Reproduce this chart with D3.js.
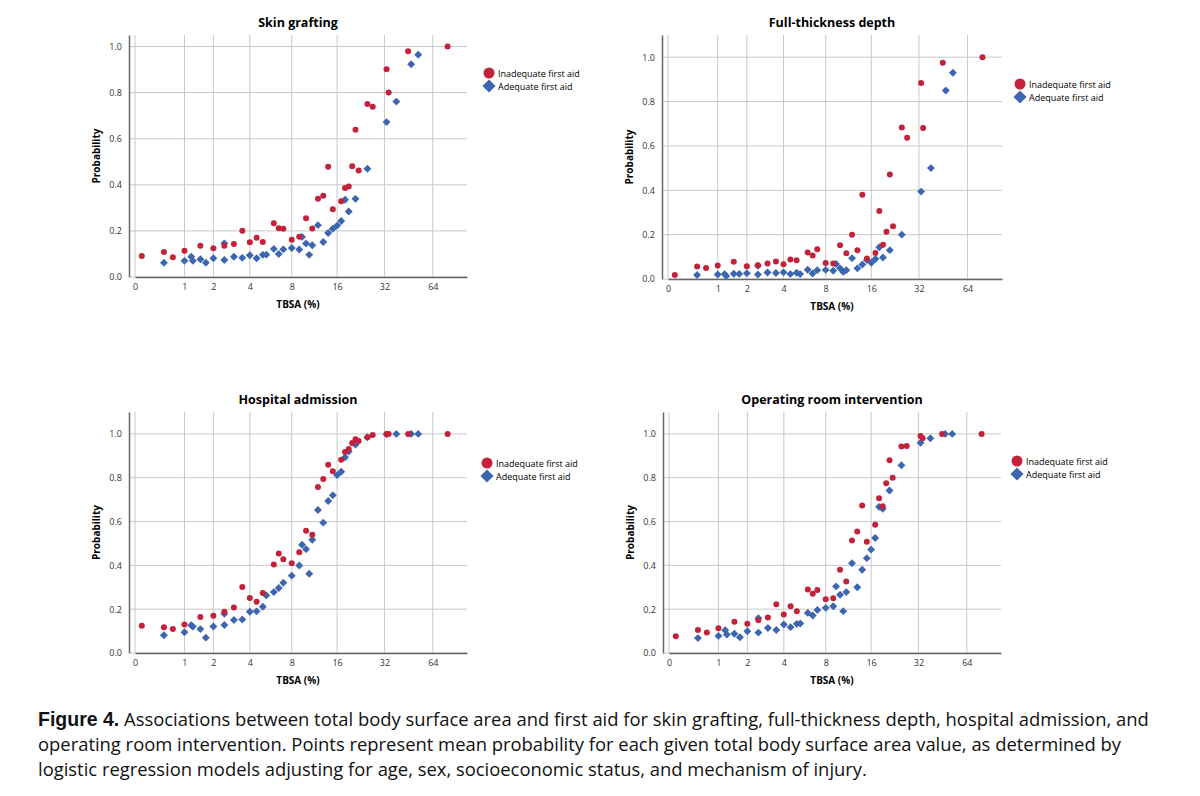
<!DOCTYPE html>
<html>
<head>
<meta charset="utf-8">
<script src="https://cdn.jsdelivr.net/npm/d3@7"></script>
<style>
  body { margin: 0; background: #fff; }
  text { font-family: "Open Sans", "Liberation Sans", sans-serif; }
</style>
</head>
<body>
<svg id="chart" width="1200" height="796"></svg>
<script>
// TBSA values shared by all panels
const xRed = [0.1,0.5,0.7,1,1.5,2,2.5,3,3.5,4,4.5,5,6,6.5,7,8,9,10,11,12,13,14,15,17,18,19,20,21,22,25,27,33,34,45,79]
const xBlue = [0.5,1,1.2,1.25,1.5,1.7,2,2.5,2.5,3,3.5,4,4.5,5,5.3,6,6.5,7,8,9,9.4,10,10.5,11,12,13,14,15,16,17,18,19,21,25,33,38,47,52]

const skinRed = [.091,.109,.086,.114,.136,.125,.136,.143,.201,.151,.170,.152,.233,.212,.209,.162,.175,.255,.210,.339,.352,.478,.294,.329,.386,.393,.480,.639,.462,.751,.739,.901,.801,.98,1.0]
const skinBlue = [.062,.07,.088,.07,.077,.062,.081,.074,.146,.088,.083,.094,.081,.096,.097,.122,.1,.12,.126,.119,.174,.145,.096,.138,.225,.152,.191,.209,.223,.243,.335,.284,.339,.47,.672,.761,.923,.964]

const fullRed = [.018,.056,.05,.061,.078,.058,.062,.07,.079,.067,.088,.085,.12,.106,.134,.072,.07,.152,.116,.2,.13,.38,.092,.117,.306,.154,.213,.471,.238,.683,.637,.884,.681,.975,1.0]
const fullBlue = [.018,.02,.022,.013,.024,.023,.026,.02,.06,.029,.027,.03,.022,.028,.022,.042,.025,.04,.041,.037,.068,.048,.032,.04,.094,.048,.065,.086,.073,.09,.143,.097,.13,.2,.394,.5,.85,.93]

const hospRed = [.124,.118,.109,.130,.164,.170,.188,.208,.301,.251,.234,.274,.404,.454,.428,.410,.460,.558,.540,.758,.794,.859,.829,.882,.917,.931,.959,.976,.968,.985,.995,1,1,1,1]
const hospBlue = [.081,.095,.127,.121,.109,.07,.121,.179,.128,.151,.153,.188,.19,.211,.263,.278,.297,.321,.353,.399,.494,.474,.362,.517,.653,.595,.694,.72,.812,.827,.893,.92,.951,.985,.998,1,1,1]

const orRed = [.077,.105,.093,.113,.143,.133,.149,.162,.223,.176,.213,.19,.29,.27,.287,.245,.25,.38,.326,.514,.555,.673,.508,.585,.706,.67,.775,.88,.8,.943,.945,.99,.98,1,1]
const orBlue = [.068,.078,.104,.084,.088,.072,.099,.093,.159,.114,.105,.13,.118,.133,.135,.183,.171,.196,.206,.213,.304,.266,.191,.278,.41,.3,.38,.433,.472,.525,.667,.658,.742,.857,.96,.98,1,1]

const xTicks = [0,1,2,4,8,16,32,64]
const yTicks = [0,0.2,0.4,0.6,0.8,1.0]

const RED = "#c4213b"
const BLUE = "#3c67b0"

const panels = [
  { title: "Skin grafting", red: skinRed, blue: skinBlue, x: 129, y: 35, w: 338, h: 242, yMax: 1.05, legX: 489, legY: 73 },
  { title: "Full-thickness depth", red: fullRed, blue: fullBlue, x: 662, y: 35, w: 340, h: 244, yMax: 1.1, legX: 1020, legY: 84 },
  { title: "Hospital admission", red: hospRed, blue: hospBlue, x: 129, y: 412, w: 338, h: 241, yMax: 1.1, legX: 487, legY: 463 },
  { title: "Operating room intervention", red: orRed, blue: orBlue, x: 663, y: 412, w: 338, h: 241, yMax: 1.1, legX: 1017, legY: 461 }
]

const svg = d3.select("#chart")

panels.forEach(p => {
  const g = svg.append("g").attr("transform", `translate(${p.x}, ${p.y})`)

  // eixo x tipo log(1+x)
  const x = d3.scaleSymlog().constant(1).domain([0, 104]).range([6, p.w])
  const y = d3.scaleLinear().domain([0, p.yMax]).range([p.h, 0])

  // grade
  g.selectAll(".vgrid").data(xTicks).enter().append("line")
    .attr("x1", d => x(d)).attr("x2", d => x(d))
    .attr("y1", 0).attr("y2", p.h)
    .attr("stroke", "#c8c8c8").attr("stroke-width", 1)
  g.selectAll(".hgrid").data(yTicks).enter().append("line")
    .attr("x1", 0).attr("x2", p.w)
    .attr("y1", d => y(d)).attr("y2", d => y(d))
    .attr("stroke", "#c8c8c8").attr("stroke-width", 1)

  // eixos
  const xAxis = g.append("g").attr("transform", `translate(0, ${p.h})`)
    .call(d3.axisBottom(x).tickValues(xTicks).tickFormat(d3.format("d")).tickSize(0).tickPadding(7))
  const yAxis = g.append("g")
    .call(d3.axisLeft(y).tickValues(yTicks).tickFormat(d3.format(".1f")).tickSize(0).tickPadding(7))
  ;[xAxis, yAxis].forEach(a => {
    a.select(".domain").attr("stroke", "#666").attr("stroke-width", 1.5)
    a.selectAll("text").attr("font-size", "9px").attr("fill", "#333")
      .attr("font-family", "'Open Sans', sans-serif")
  })

  // pontos
  g.selectAll(".blue").data(p.blue).enter().append("path")
    .attr("d", d3.symbol().type(d3.symbolDiamond2).size(40))
    .attr("transform", (d, i) => `translate(${x(xBlue[i])}, ${y(d)})`)
    .attr("fill", BLUE)
  g.selectAll(".red").data(p.red).enter().append("circle")
    .attr("cx", (d, i) => x(xRed[i])).attr("cy", d => y(d))
    .attr("r", 3).attr("fill", RED)

  // rotulos
  g.append("text").attr("x", p.w / 2).attr("y", -8)
    .attr("text-anchor", "middle").attr("font-size", "12.5px").attr("font-weight", "bold")
    .text(p.title)
  g.append("text").attr("x", p.w / 2).attr("y", p.h + 31)
    .attr("text-anchor", "middle").attr("font-size", "10px").attr("font-weight", "bold")
    .text("TBSA (%)")
  g.append("text").attr("transform", `translate(-29, ${p.h / 2}) rotate(-90)`)
    .attr("text-anchor", "middle").attr("font-size", "10px").attr("font-weight", "bold")
    .text("Probability")

  // legenda
  const leg = svg.append("g").attr("transform", `translate(${p.legX}, ${p.legY})`)
  leg.append("circle").attr("cx", 0).attr("cy", 0).attr("r", 5.5).attr("fill", RED)
  leg.append("path").attr("d", d3.symbol().type(d3.symbolDiamond2).size(110))
    .attr("transform", "translate(0, 13)").attr("fill", BLUE)
  leg.append("text").attr("x", 9).attr("y", 3.5).attr("font-size", "9px").text("Inadequate first aid")
  leg.append("text").attr("x", 9).attr("y", 16.5).attr("font-size", "9px").text("Adequate first aid")
})

// legenda da figura
const caption = [
  "Associations between total body surface area and first aid for skin grafting, full-thickness depth, hospital admission, and",
  "operating room intervention. Points represent mean probability for each given total body surface area value, as determined by",
  "logistic regression models adjusting for age, sex, socioeconomic status, and mechanism of injury."
]
const cap = svg.append("text").attr("font-size", "18.4px").attr("fill", "#111")
  .attr("font-family", "'Open Sans', sans-serif")
caption.forEach((line, i) => {
  const t = cap.append("tspan").attr("x", 38).attr("y", 726 + i * 25)
  if (i === 0) {
    t.append("tspan").attr("font-weight", "bold").attr("font-family", "'Liberation Sans', Arial, sans-serif")
      .attr("font-size", "19.5px").text("Figure 4.")
    t.append("tspan").text("  " + line)
  } else {
    t.text(line)
  }
})
</script>
</body>
</html>
